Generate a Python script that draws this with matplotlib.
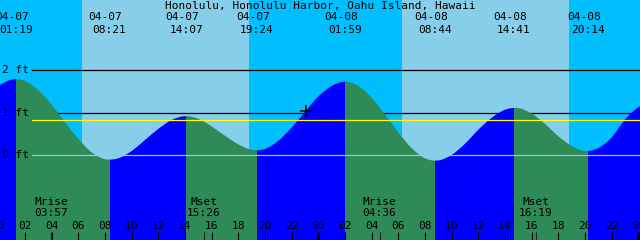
import matplotlib
matplotlib.use("Agg")
import matplotlib.pyplot as plt
from matplotlib.path import Path
from matplotlib.patches import PathPatch
import numpy as np

# hourly tide heights (ft), hour 0 = 04-07 00:00
hours = np.arange(50)
heights = [1.63, 1.78, 1.75, 1.53, 1.19, 0.78, 0.39, 0.07, -0.09, -0.07,
           0.10, 0.36, 0.62, 0.83, 0.92, 0.86, 0.68, 0.46, 0.26, 0.13,
           0.15, 0.34, 0.65, 1.02, 1.38, 1.63, 1.73, 1.63, 1.36, 0.96,
           0.54, 0.17, -0.07, -0.12, 0.01, 0.27, 0.60, 0.88, 1.07, 1.11,
           0.98, 0.74, 0.45, 0.22, 0.10, 0.17, 0.42, 0.84, 1.13, 1.30]

# high / low tides
ext_dates = ["04-07", "04-07", "04-07", "04-07", "04-08", "04-08", "04-08", "04-08"]
ext_times = ["01:19", "08:21", "14:07", "19:24", "01:59", "08:44", "14:41", "20:14"]
ext_heights = [1.79, -0.11, 0.92, 0.12, 1.73, -0.13, 1.12, 0.10]

# sun and moon
sunrise = ["06:17", "06:17"]
sunset = ["18:48", "18:48"]
moon_names = ["Mrise", "Mset", "Mrise", "Mset"]
moon_days = [0, 0, 1, 1]
moon_times = ["03:57", "15:26", "04:36", "16:19"]

mark_time, mark_height = 23.08, 1.03   # the "+" mark
mean_level = 0.82
depth_lines = [2, 1]

def to_hours(s, day):
    hh, mm = s.split(":")
    return 24 * day + int(hh) + int(mm) / 60.0

ext_days = [0 if d == "04-07" else 1 for d in ext_dates]
ext_hours = [to_hours(t, d) for t, d in zip(ext_times, ext_days)]

XMIN, XMAX = 0.13, 48.13
YMIN, YMAX = -1.99, 3.65
NIGHT, DAY = "#00bfff", "#87ceeb"
RISE, FALL = "#0000ff", "#2e8b57"
FONT = dict(family="DejaVu Sans Mono", fontsize=8, color="black")

fig = plt.figure(figsize=(6.4, 2.4), dpi=100)
ax = fig.add_axes([0, 0, 1, 1])
ax.set_xlim(XMIN, XMAX)
ax.set_ylim(YMIN, YMAX)
ax.axis("off")

# sky
ax.axvspan(XMIN, XMAX, color=NIGHT, lw=0, zorder=0)
for d in range(2):
    ax.axvspan(to_hours(sunrise[d], d), to_hours(sunset[d], d), color=DAY, lw=0, zorder=0)

# depth lines (hidden under water)
for lvl in depth_lines:
    ax.axhline(lvl, xmin=0.05, xmax=1, color="black", lw=0.9, zorder=1)

# smooth water outline (bezier through the hourly heights)
P = np.column_stack([hours, heights]).astype(float)
n = len(P)
verts = [P[0]]
codes = [Path.MOVETO]
for i in range(n - 1):
    p0, p1, p2, p3 = P[max(i - 1, 0)], P[i], P[i + 1], P[min(i + 2, n - 1)]
    verts += [p1 + (p2 - p0) / 6, p2 - (p3 - p1) / 6, p2]
    codes += [Path.CURVE4] * 3
verts += [(P[-1, 0], YMIN), (P[0, 0], YMIN), (P[0, 0], YMIN)]
codes += [Path.LINETO, Path.LINETO, Path.CLOSEPOLY]
water = PathPatch(Path(verts, codes), facecolor="none", edgecolor="none",
                  transform=ax.transData)
ax.add_patch(water)

# green while falling, blue while rising
bounds = [hours[0]] + ext_hours + [hours[-1]]
for i in range(len(bounds) - 1):
    col = FALL if (i % 2 == 1) == (ext_heights[0] > ext_heights[1]) else RISE
    band = ax.axvspan(bounds[i], bounds[i + 1], color=col, lw=0, zorder=2)
    band.set_clip_path(water)

ax.axhline(0, xmin=0.05, xmax=1, color=DAY, lw=0.9, zorder=3)
ax.axhline(mean_level, xmin=0.05, xmax=1, color="yellow", lw=0.9, zorder=3)
ax.plot([mark_time], [mark_height], marker="+", color="black", ms=8, mew=1.1, zorder=4)

# y labels
ytr = ax.get_yaxis_transform()
for lvl in [2, 1, 0]:
    ax.text(0.003, lvl, f"{lvl} ft", transform=ytr, ha="left", va="center", **FONT)

# header
xtr = ax.get_xaxis_transform()
ax.text(0.5, 0.977, "Honolulu, Honolulu Harbor, Oahu Island, Hawaii",
        transform=ax.transAxes, ha="center", va="center", **FONT)
for d, t, x in zip(ext_dates, ext_times, ext_hours):
    ax.text(x - 0.3, 0.930, d, transform=xtr, ha="center", va="center", **FONT)
    ax.text(x, 0.877, t, transform=xtr, ha="center", va="center", **FONT)

# moon
for name, d, t in zip(moon_names, moon_days, moon_times):
    x = to_hours(t, d)
    ax.text(x, 0.160, name, transform=xtr, ha="center", va="center", **FONT)
    ax.text(x, 0.111, t, transform=xtr, ha="center", va="center", **FONT)
    ax.vlines(x, 0, 0.035, transform=xtr, color="#222222", lw=0.8, zorder=5)

# hour ticks
for h in range(0, 49, 2):
    ax.text(h, 0.060, f"{h % 24:02d}", transform=xtr, ha="center", va="center", **FONT)
    ax.vlines(h, 0, 0.035, transform=xtr, color="black",
              lw=2.2 if h % 24 == 0 else 0.8, zorder=5)

fig.savefig("out.png", dpi=100)
